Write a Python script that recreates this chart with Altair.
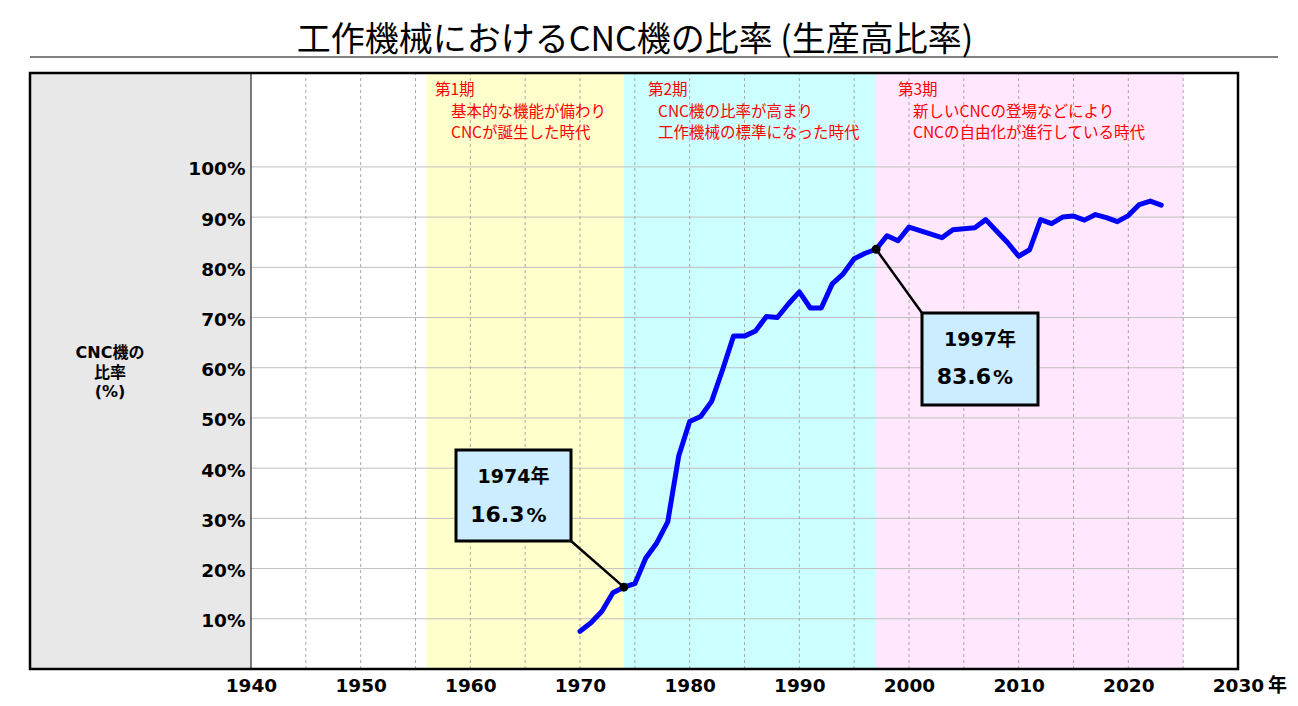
import altair as alt
import pandas as pd

# ---------------- data ----------------
years = list(range(1970, 2024))
ratio = [7.5, 9.2, 11.5, 15.2, 16.3, 17.0, 22.1, 25.1, 29.3, 42.4,
         49.3, 50.3, 53.3, 59.6, 66.3, 66.3, 67.3, 70.2, 70.0, 72.7,
         75.1, 71.9, 71.9, 76.7, 78.7, 81.7, 82.8, 83.6, 86.3, 85.3,
         88.0, 87.3, 86.6, 85.9, 87.5, 87.7, 87.9, 89.5, 87.2, 84.9,
         82.2, 83.5, 89.5, 88.7, 90.0, 90.2, 89.4, 90.5, 89.9, 89.1,
         90.3, 92.5, 93.2, 92.4]

x_ticks = list(range(1940, 2031, 10))
y_ticks = list(range(10, 101, 10))
minor_years = list(range(1945, 2030, 5))

period_names = ["第1期", "第2期", "第3期"]
period_start = [1956, 1974, 1997]
period_end = [1974, 1997, 2025]
period_desc1 = ["基本的な機能が備わり", "CNC機の比率が高まり", "新しいCNCの登場などにより"]
period_desc2 = ["CNCが誕生した時代", "工作機械の標準になった時代", "CNCの自由化が進行している時代"]

callout_years = [1974, 1997]
callout_values = [16.3, 83.6]
callout_year_text = ["1974年", "1997年"]
callout_value_text = ["16.3", "83.6"]

title_text = "工作機械におけるCNC機の比率 (生産高比率)"
ytitle_lines = ["CNC機の", "比率", "(%)"]

# ---------------- layout helpers ----------------
W, H = 987, 596
XMIN, XMAX = 1940, 2030
YMAX = 118.7
PX_X = W / (XMAX - XMIN)
PX_Y = H / YMAX
LEFT, TOP = 251, 73


def xp(px):
    return XMIN + (px - LEFT) / PX_X


def yp(py):
    return (TOP + H - py) / PX_Y


xs = alt.Scale(domain=[XMIN, XMAX], nice=False, zero=False)
ys = alt.Scale(domain=[0, YMAX], nice=False, zero=False)


def X(f):
    return alt.X(f, type="quantitative", scale=xs)


def Y(f):
    return alt.Y(f, type="quantitative", scale=ys)


JP = "Noto Sans CJK JP"
BOLD = "DejaVu Sans, Noto Sans CJK JP"

# ---------------- layers ----------------
line_df = pd.DataFrame({"year": years, "ratio": ratio})
axes_layer = alt.Chart(line_df).mark_line(opacity=0).encode(
    x=alt.X("year:Q", scale=xs, axis=alt.Axis(
        values=x_ticks, format="d", title="年", labelFont="DejaVu Sans", labelFontWeight="bold",
        labelFontSize=18.5, labelColor="black", labelPadding=7, labelFlush=False, labelOverlap=False,
        domain=False, ticks=False, grid=False,
        titleX=1277 - LEFT, titleY=16, titleAlign="center", titleBaseline="middle", titleFont=JP,
        titleFontSize=19, titleFontWeight="bold", titleColor="black", zindex=1)),
    y=alt.Y("ratio:Q", scale=ys, axis=alt.Axis(
        values=y_ticks, labelExpr="datum.value + '%'", title=None, labelFont="DejaVu Sans",
        labelFontWeight="bold", labelFontSize=18.5, labelColor="black", labelPadding=6,
        labelFlush=False, labelOverlap=False,
        labelBaseline="middle", labelOffset=2, domain=False, ticks=False, grid=False, zindex=1)),
)

panel = alt.Chart(pd.DataFrame({"a": [xp(30)], "b": [XMIN], "y0": [0], "y1": [YMAX]})).mark_rect(
    fill="#E8E8E8").encode(x=X("a"), x2="b", y=Y("y0"), y2="y1")

bands_df = pd.DataFrame({"start": period_start, "end": period_end,
                         "color": ["#FFFFCC", "#CCFFFF", "#FFE8FD"],
                         "y0": 0, "y1": YMAX})
bands = alt.Chart(bands_df).mark_rect().encode(
    x=X("start"), x2="end", y=Y("y0"), y2="y1", color=alt.Color("color:N", scale=None))

hgrid = alt.Chart(pd.DataFrame({"v": y_ticks, "a": XMIN, "b": XMAX})).mark_rule(
    color="#BFBFBF", strokeWidth=1).encode(y=Y("v"), x=X("a"), x2="b")

vgrid = alt.Chart(pd.DataFrame({"v": minor_years, "y0": 0, "y1": YMAX})).mark_rule(
    color="#A8A8A8", strokeWidth=1, strokeDash=[3, 3]).encode(x=X("v"), y=Y("y0"), y2="y1")

panel_edge = alt.Chart(pd.DataFrame({"v": [XMIN], "y0": [0], "y1": [YMAX]})).mark_rule(
    color="black", strokeWidth=1).encode(x=X("v"), y=Y("y0"), y2="y1")

frame = alt.Chart(pd.DataFrame({"a": [xp(30)], "b": [XMAX], "y0": [0], "y1": [YMAX]})).mark_rect(
    fillOpacity=0, stroke="black", strokeWidth=2.5).encode(x=X("a"), x2="b", y=Y("y0"), y2="y1")

line = alt.Chart(line_df).mark_line(
    color="#0000FF", strokeWidth=5, strokeJoin="round", strokeCap="round").encode(
    x=X("year"), y=Y("ratio"))

# callouts (box geometry in data units)
box_x1 = [xp(456), xp(922)]
box_x2 = [xp(571), xp(1038)]
box_y1 = [yp(541), yp(405)]
box_y2 = [yp(450), yp(313)]
lead_x = [xp(571), xp(922)]
lead_y = [yp(541), yp(313)]
cx = [(a + b) / 2 for a, b in zip(box_x1, box_x2)]
ty_year = [yp(477), yp(340)]
ty_val = [yp(522), yp(384)]

cdf = pd.DataFrame({"year": callout_years, "value": callout_values,
                    "bx1": box_x1, "bx2": box_x2, "by1": box_y1, "by2": box_y2,
                    "lx": lead_x, "ly": lead_y, "cx": cx, "tyy": ty_year, "tyv": ty_val,
                    "ytxt": callout_year_text, "vtxt": callout_value_text, "pct": "%"})

leaders = alt.Chart(cdf).mark_rule(color="black", strokeWidth=2.5).encode(
    x=X("year"), y=Y("value"), x2="lx", y2="ly")
dots = alt.Chart(cdf).mark_circle(color="black", opacity=1, size=80).encode(x=X("year"), y=Y("value"))
boxes = alt.Chart(cdf).mark_rect(fill="#CCECFF", stroke="black", strokeWidth=3).encode(
    x=X("bx1"), x2="bx2", y=Y("by1"), y2="by2")
t_year = alt.Chart(cdf).mark_text(font=BOLD, fontWeight="bold", fontSize=19, color="black",
                                  baseline="middle", align="center").encode(
    x=X("cx"), y=Y("tyy"), text="ytxt:N")
t_val = alt.Chart(cdf).mark_text(font="DejaVu Sans", fontWeight="bold", fontSize=22, color="black",
                                 baseline="alphabetic", align="right", dx=11).encode(
    x=X("cx"), y=Y("tyv"), text="vtxt:N")
t_pct = alt.Chart(cdf).mark_text(font="DejaVu Sans", fontWeight="bold", fontSize=20, color="black",
                                 baseline="alphabetic", align="left", dx=13).encode(
    x=X("cx"), y=Y("tyv"), text="pct:N")

# period labels
pdf = pd.DataFrame({
    "name": period_names, "d1": period_desc1, "d2": period_desc2,
    "nx": [xp(435), xp(648), xp(898)],
    "dx": [xp(451), xp(658), xp(913)],
    "ny": yp(90), "y1": yp(112), "y2": yp(133)})
ptext = dict(font=JP, fontSize=15.5, color="#FF0000", align="left", baseline="middle")
p_name = alt.Chart(pdf).mark_text(**ptext).encode(x=X("nx"), y=Y("ny"), text="name:N")
p_d1 = alt.Chart(pdf).mark_text(**ptext).encode(x=X("dx"), y=Y("y1"), text="d1:N")
p_d2 = alt.Chart(pdf).mark_text(**ptext).encode(x=X("dx"), y=Y("y2"), text="d2:N")

# title + underline
tdf = pd.DataFrame({"x": [xp(635)], "y": [yp(51)], "t": [title_text],
                    "a": [xp(30)], "b": [xp(1278)], "u": [yp(57)]})
title = alt.Chart(tdf).mark_text(font=JP, fontSize=34, color="black", align="center",
                                 baseline="alphabetic").encode(x=X("x"), y=Y("y"), text="t:N")
underline = alt.Chart(tdf).mark_rule(color="black", strokeWidth=1).encode(x=X("a"), x2="b", y=Y("u"))

# y title (first line position; following lines below)
ydf = pd.DataFrame({"x": [xp(110)], "y": [yp(353)]})
ytitle = alt.Chart(ydf).mark_text(font=BOLD, fontWeight="bold", fontSize=16, color="black",
                                  align="center", baseline="middle", lineHeight=19.5).encode(
    x=X("x"), y=Y("y"), text=alt.value(ytitle_lines))

chart = alt.layer(
    axes_layer, panel, bands, hgrid, vgrid, panel_edge, line, leaders, dots, boxes,
    t_year, t_val, t_pct, p_name, p_d1, p_d2, title, underline, ytitle, frame
).properties(
    width=W, height=H,
    autosize=alt.AutoSizeParams(type="none"),
    padding={"left": LEFT - 8, "top": TOP - 8, "right": 52, "bottom": 30},
    background="white",
).configure_view(stroke=None)

chart.save("out.html", embed_options={"renderer": "svg", "actions": False})
